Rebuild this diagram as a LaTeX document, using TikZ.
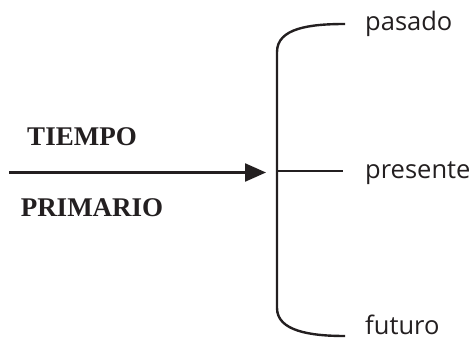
\documentclass[tikz,border=0pt]{standalone}
\usepackage{fontspec}
\setmainfont{Liberation Serif}
\newfontfamily\labfont{Open Sans}
\usetikzlibrary{arrows.meta}
\definecolor{ink}{HTML}{231F20}
\begin{document}
\begin{tikzpicture}[x=1pt,y=-1pt,
  line/.style={draw=ink,line width=2.4pt},
  lab/.style={anchor=base west,inner sep=0pt,text=ink,font=\labfont\fontsize{25.5}{30}\selectfont},
  bold/.style={inner sep=0pt,text=ink,font=\bfseries\fontsize{27}{30}\selectfont}]
\useasboundingbox (0,0) rectangle (473,339);
\node[lab] (pas) at (365,31) {pasado};
\node[lab] (pre) at (365,178) {presente};
\node[lab,text depth=0pt] (fut) at (365,334) {futuro};
\node[bold] (tie) at (82,137) {TIEMPO};
\node[bold] (pri) at (92,208) {PRIMARIO};
\coordinate (s) at (9,172.5);
\coordinate (t) at (266,172.5);
\coordinate (top) at (345,24);
\coordinate (bot) at (345,336);
\coordinate (mid) at (343,171);
\coordinate (vm) at (277,171);
\draw[line,-{Triangle[length=21pt,width=18pt]}] (s) -- (t);
\draw[line] (top) .. controls (310,24) and (277,28) .. (277,52) -- (277,308) .. controls (277,331) and (310,336) .. (bot);
\draw[line] (vm) -- (mid);
\end{tikzpicture}
\end{document}
